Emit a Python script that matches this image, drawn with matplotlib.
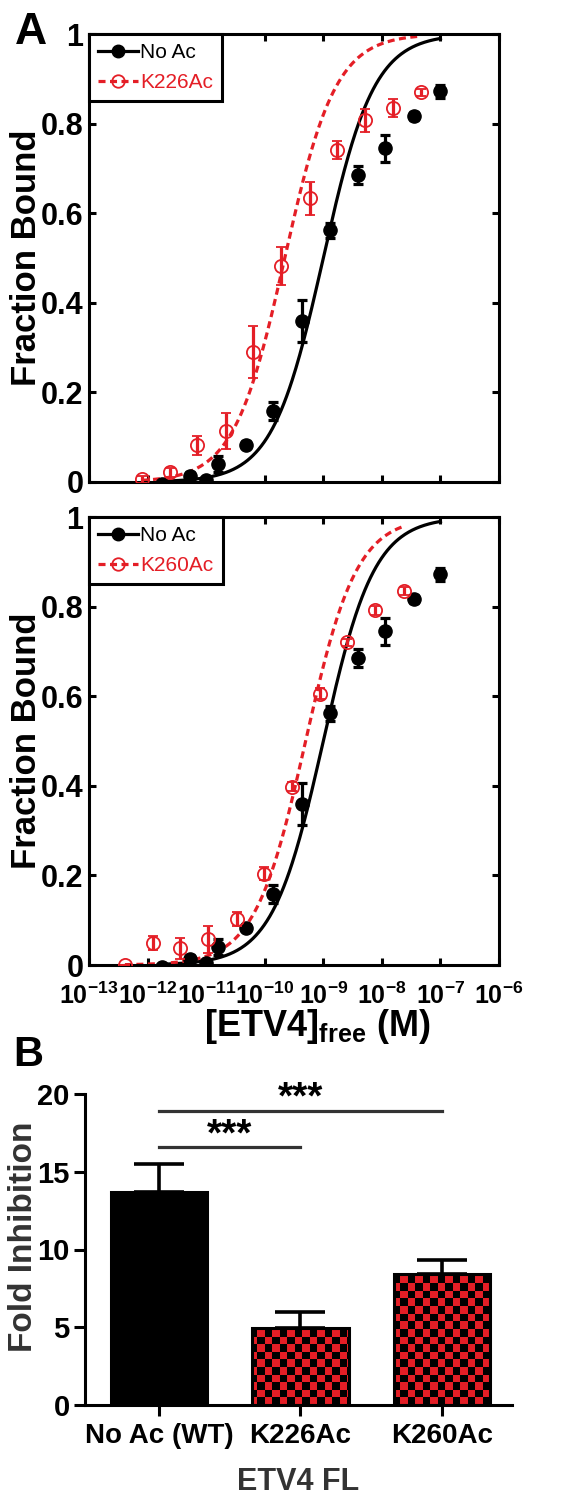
import numpy as np
import matplotlib
matplotlib.use("Agg")
import matplotlib.pyplot as plt
from matplotlib.colors import ListedColormap
from matplotlib.lines import Line2D
from matplotlib.ticker import NullLocator

plt.rcParams['font.family'] = ['Liberation Sans', 'DejaVu Sans']
plt.rcParams['mathtext.fontset'] = 'custom'
plt.rcParams['mathtext.rm'] = 'Liberation Sans'
plt.rcParams['mathtext.bf'] = 'Liberation Sans:bold'
plt.rcParams['mathtext.it'] = 'Liberation Sans:italic'

RED = '#e41e26'
GREY = '#333333'

# --- binding curves (A): [ETV4]free in M, fraction bound ---
conc_noac = np.array([1.74e-12, 5.2e-12, 1.0e-11, 1.57e-11, 4.8e-11, 1.41e-10,
                      4.3e-10, 1.29e-9, 3.9e-9, 1.15e-8, 3.5e-8, 1.0e-7])
frac_noac = np.array([-0.005, 0.013, 0.005, 0.04, 0.083, 0.158,
                      0.36, 0.562, 0.686, 0.745, 0.817, 0.872])
err_noac = np.array([0.005, 0.01, 0.005, 0.018, 0.008, 0.02,
                     0.047, 0.017, 0.02, 0.03, 0.01, 0.015])
kd_noac = 1.0e-9

conc_k226 = np.array([7.9e-13, 2.4e-12, 7.1e-12, 2.2e-11, 6.3e-11, 1.9e-10,
                      6.0e-10, 1.74e-9, 5.2e-9, 1.55e-8, 4.6e-8])
frac_k226 = np.array([0.006, 0.022, 0.082, 0.113, 0.29, 0.482,
                      0.633, 0.742, 0.807, 0.834, 0.87])
err_k226 = np.array([0.008, 0.01, 0.021, 0.04, 0.058, 0.043,
                     0.037, 0.02, 0.026, 0.02, 0.008])
kd_k226 = 2.2e-10

conc_k260 = np.array([4.1e-13, 1.23e-12, 3.6e-12, 1.07e-11, 3.3e-11, 9.8e-11,
                      2.95e-10, 8.7e-10, 2.57e-9, 7.6e-9, 2.35e-8])
frac_k260 = np.array([0.0, 0.049, 0.037, 0.057, 0.102, 0.204,
                      0.398, 0.606, 0.72, 0.792, 0.835])
err_k260 = np.array([0.0, 0.015, 0.024, 0.03, 0.016, 0.014,
                     0.01, 0.012, 0.008, 0.01, 0.008])
kd_k260 = 5.0e-10

decades = [1e-13, 1e-12, 1e-11, 1e-10, 1e-9, 1e-8, 1e-7, 1e-6]
decade_labels = [r'$\mathbf{10^{-%d}}$' % n for n in range(13, 5, -1)]
frac_ticks = [0, 0.2, 0.4, 0.6, 0.8, 1]
frac_labels = ['0', '0.2', '0.4', '0.6', '0.8', '1']

# --- fold inhibition (B) ---
groups = ['No Ac (WT)', 'K226Ac', 'K260Ac']
fold = np.array([13.7, 4.95, 8.4])
fold_err = np.array([1.8, 1.0, 0.9])
fold_ticks = [0, 5, 10, 15, 20]

W, H = 575, 1497
fig = plt.figure(figsize=(W / 100, H / 100), dpi=100)


def px_axes(left, top, right, bottom):
    return fig.add_axes([left / W, 1 - bottom / H, (right - left) / W, (bottom - top) / H])


def binding(c, kd):
    return c / (c + kd)


def binding_panel(ax, conc_ac, frac_ac, err_ac, kd_ac, ac_end, label_ac, show_x):
    xs = np.logspace(np.log10(conc_noac[0]), -7, 300)
    ax.plot(xs, binding(xs, kd_noac), color='black', lw=2.3, zorder=2)
    xr = np.logspace(np.log10(conc_ac[0]), np.log10(ac_end), 300)
    ax.plot(xr, binding(xr, kd_ac), color=RED, lw=2.3, ls=(0, (2.2, 1.4)), zorder=2)
    ax.errorbar(conc_noac, frac_noac, yerr=err_noac, fmt='o', color='black',
                ms=9.5, elinewidth=2.3, capsize=3.5, capthick=2.3, zorder=3)
    ax.errorbar(conc_ac, frac_ac, yerr=err_ac, fmt='o', color=RED, mfc='none',
                mec=RED, mew=1.3, ms=9.5, elinewidth=2.3, capsize=3.5,
                capthick=2.3, zorder=4)

    ax.set_xscale('log')
    ax.set_xlim(1e-13, 1e-6)
    ax.set_ylim(0, 1)
    ax.set_xticks(decades)
    ax.xaxis.set_minor_locator(NullLocator())
    ax.set_yticks(frac_ticks)
    ax.set_yticklabels(frac_labels, fontweight='bold')
    ax.tick_params(direction='in', top=True, right=True, length=5, width=2.2,
                   labelsize=22, pad=4)
    if show_x:
        ax.set_xticklabels(decade_labels)
        ax.tick_params(axis='x', labelsize=18, pad=13)
        ax.set_xlabel(r'$\mathbf{[ETV4]_{free}\ (M)}$', fontsize=26, labelpad=0)
        ax.xaxis.set_label_coords(0.556, -0.093, transform=ax.transAxes)
        ax.xaxis.label.set_va('top')
    else:
        ax.tick_params(labelbottom=False)
    for sp in ax.spines.values():
        sp.set_linewidth(2.2)
    ax.set_ylabel('Fraction Bound', fontsize=25, fontweight='bold', labelpad=-2)

    handles = [Line2D([], [], color='black', lw=2.3, marker='o', ms=9),
               Line2D([], [], color=RED, lw=2.3, ls=(0, (2.2, 1.4)), marker='o',
                      mfc='none', mec=RED, mew=1.3, ms=9)]
    leg = ax.legend(handles, ['No Ac', label_ac], loc='upper left',
                    bbox_to_anchor=(0, 1), borderaxespad=0, fontsize=15,
                    fancybox=False, framealpha=1, edgecolor='black',
                    handlelength=1.9, handletextpad=0.1, borderpad=0.45,
                    labelspacing=0.5, labelcolor='linecolor')
    leg.get_frame().set_linewidth(2.2)


ax1 = px_axes(89, 34, 499, 482)
binding_panel(ax1, conc_k226, frac_k226, err_k226, kd_k226, 4.0e-8, 'K226Ac', False)

ax2 = px_axes(89, 517, 499, 965)
binding_panel(ax2, conc_k260, frac_k260, err_k260, kd_k260, 2.2e-8, 'K260Ac', True)

# --- bar chart ---
axb = px_axes(85, 1094, 512, 1405)
xb = np.arange(len(groups))
axb.errorbar(xb, fold, yerr=[np.zeros(len(fold)), fold_err], fmt='none',
             ecolor='black', elinewidth=2.6, capsize=18, capthick=2.6, zorder=1)
bars = axb.bar(xb, fold, width=0.685, color=['black', 'none', 'none'],
               edgecolor='black', linewidth=2.2, zorder=3)
checker = np.indices((41, 57)).sum(axis=0) % 2
for patch in bars.patches[1:]:
    im = axb.imshow(checker, cmap=ListedColormap([RED, 'black']),
                    extent=(0, 1, 0, 1), transform=axb.transAxes, aspect='auto',
                    interpolation='nearest', zorder=2)
    im.set_clip_path(patch)

axb.set_xlim(-0.523, 2.495)
axb.set_ylim(0, 20)
axb.set_yticks(fold_ticks)
axb.set_yticklabels([str(t) for t in fold_ticks], fontweight='bold')
axb.set_xticks(xb)
axb.set_xticklabels(groups, fontweight='bold')
axb.tick_params(axis='y', direction='out', length=8, width=2.2, labelsize=21, pad=3)
axb.tick_params(axis='x', direction='out', length=8, width=2.2, labelsize=20, pad=5)
axb.spines['top'].set_visible(False)
axb.spines['right'].set_visible(False)
axb.spines['left'].set_linewidth(2.2)
axb.spines['bottom'].set_linewidth(2.2)
axb.set_ylabel('Fold Inhibition', fontsize=24, fontweight='bold', color=GREY)
axb.yaxis.set_label_coords(-0.108, 0.54)
axb.set_xlabel('ETV4 FL', fontsize=22, fontweight='bold', color=GREY, labelpad=13)

# significance brackets
sig_pairs = [(0, 1, 16.6, 17.35), (0, 2, 18.9, 19.7)]
for a, b, yl, ys in sig_pairs:
    axb.plot([xb[a], xb[b]], [yl, yl], color=GREY, lw=2.3, clip_on=False)
    axb.text((xb[a] + xb[b]) / 2, ys, '***', ha='center', va='center',
             fontsize=28, fontweight='bold', clip_on=False)

fig.text(15 / W, 1 - 33 / H, 'A', fontsize=32, fontweight='bold', va='center')
fig.text(13 / W, 1 - 1055 / H, 'B', fontsize=30, fontweight='bold', va='center')

fig.savefig('out.png', dpi=100)
